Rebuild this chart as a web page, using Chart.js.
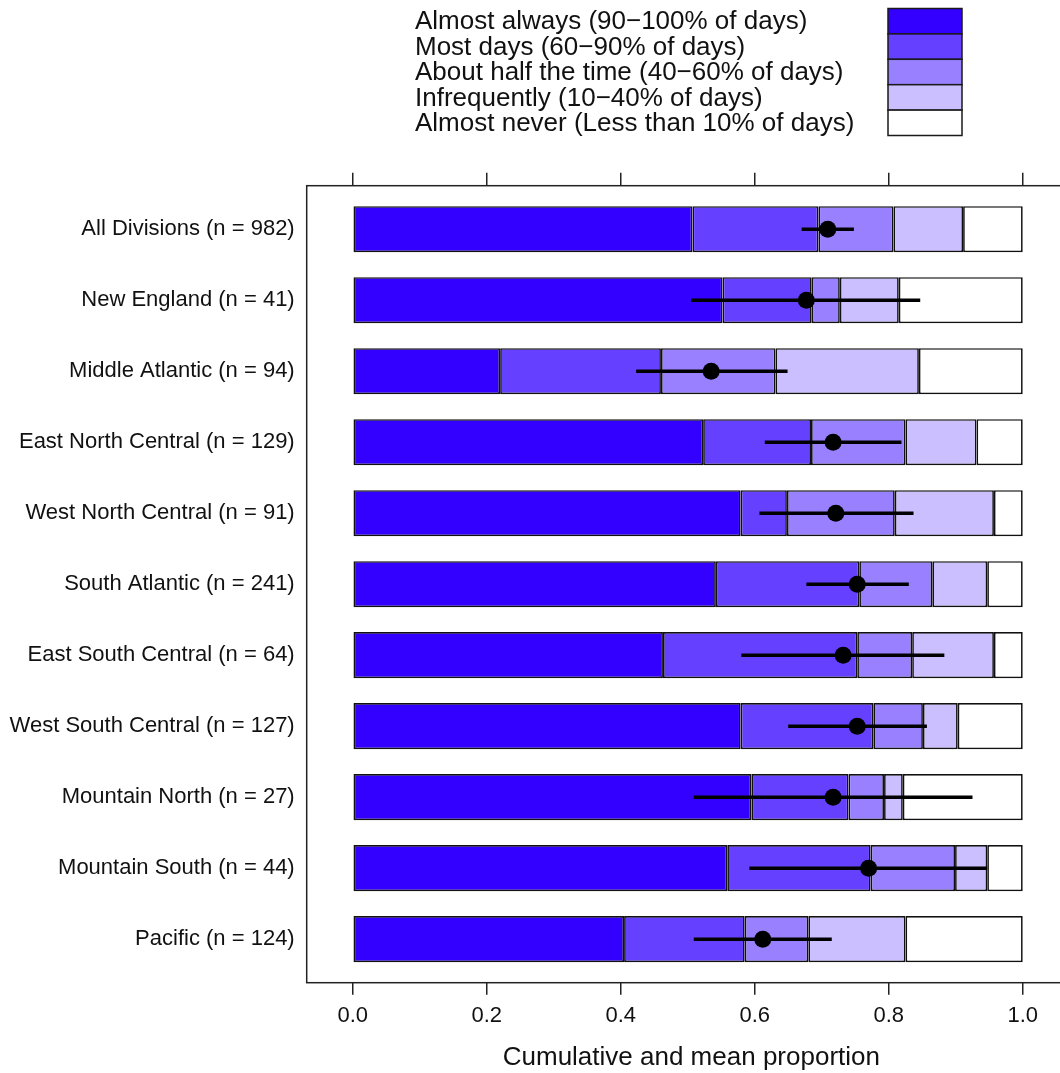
<!DOCTYPE html>
<html>
<head>
<meta charset="utf-8">
<script src="https://cdn.jsdelivr.net/npm/chart.js@4/dist/chart.umd.min.js"></script>
<style>
  html, body { margin: 0; padding: 0; overflow: hidden; background: #ffffff; }
  canvas { display: block; }
</style>
</head>
<body>
<canvas id="chart" width="1100" height="1073"></canvas>
<script>
// Census divisions, top to bottom
const categories = [
  'All Divisions (n = 982)',
  'New England (n = 41)',
  'Middle Atlantic (n = 94)',
  'East North Central (n = 129)',
  'West North Central (n = 91)',
  'South Atlantic (n = 241)',
  'East South Central (n = 64)',
  'West South Central (n = 127)',
  'Mountain North (n = 27)',
  'Mountain South (n = 44)',
  'Pacific (n = 124)'
];

// Response levels (legend order)
const levels = [
  'Almost always (90\u2212100% of days)',
  'Most days (60\u221290% of days)',
  'About half the time (40\u221260% of days)',
  'Infrequently (10\u221240% of days)',
  'Almost never (Less than 10% of days)'
];

// Cumulative proportion reached at the right edge of each level
const cumAlmostAlways = [0.507, 0.552, 0.220, 0.523, 0.579, 0.542, 0.463, 0.579, 0.595, 0.559, 0.405];
const cumMostDays     = [0.695, 0.685, 0.460, 0.684, 0.648, 0.756, 0.753, 0.777, 0.740, 0.773, 0.585];
const cumAboutHalf    = [0.807, 0.727, 0.631, 0.825, 0.809, 0.865, 0.835, 0.851, 0.793, 0.899, 0.680];
const cumInfrequently = [0.911, 0.815, 0.845, 0.931, 0.957, 0.947, 0.957, 0.903, 0.821, 0.947, 0.825];
const cumAlmostNever  = [1, 1, 1, 1, 1, 1, 1, 1, 1, 1, 1];

// Mean proportion with interval
const meanProp = [0.709, 0.677, 0.535, 0.717, 0.721, 0.753, 0.732, 0.753, 0.717, 0.770, 0.612];
const ciLow    = [0.670, 0.505, 0.423, 0.615, 0.607, 0.677, 0.580, 0.650, 0.509, 0.592, 0.509];
const ciHigh   = [0.748, 0.847, 0.649, 0.819, 0.837, 0.830, 0.883, 0.857, 0.925, 0.947, 0.715];

// Axis ticks
const xTicks = [0, 0.2, 0.4, 0.6, 0.8, 1.0];

const FONT = "'Liberation Sans', Arial, Helvetica, sans-serif";
const INK = '#111111';
const levelColors = ['#3300FF', '#6640FF', '#9980FF', '#CCBFFF', '#FFFFFF'];

const X_MIN = -0.0687, X_MAX = 1.0795;
const Y_PAD = 0.6127;

const zeros = categories.map(() => 0);
const bounds = [zeros, cumAlmostAlways, cumMostDays, cumAboutHalf, cumInfrequently, cumAlmostNever];

const barSets = levels.map((label, k) => ({
  type: 'bar',
  label: label,
  data: categories.map((_, i) => ({ x: [bounds[k][i], bounds[k + 1][i]], y: i })),
  backgroundColor: levelColors[k],
  borderColor: '#111111',
  borderWidth: 1.7,
  borderSkipped: false,
  grouped: false,
  barPercentage: 0.65,
  categoryPercentage: 1,
  xAxisID: 'x',
  yAxisID: 'y'
}));

const meanSet = {
  type: 'scatter',
  label: 'Mean',
  data: categories.map((_, i) => ({ x: meanProp[i], y: i })),
  pointRadius: 8.5,
  pointBackgroundColor: '#000000',
  pointBorderColor: '#000000',
  pointBorderWidth: 0,
  xAxisID: 'x',
  yAxisID: 'y',
  order: -1
};

// Horizontal interval lines behind the mean dots
const intervalPlugin = {
  id: 'intervals',
  beforeDatasetDraw(chart, args) {
    if (chart.data.datasets[args.index].type !== 'scatter') return;
    const { ctx, scales: { x, y } } = chart;
    ctx.save();
    ctx.strokeStyle = '#000000';
    ctx.lineWidth = 3.6;
    ctx.lineCap = 'butt';
    categories.forEach((_, i) => {
      const py = y.getPixelForValue(i);
      ctx.beginPath();
      ctx.moveTo(x.getPixelForValue(ciLow[i]), py);
      ctx.lineTo(x.getPixelForValue(ciHigh[i]), py);
      ctx.stroke();
    });
    ctx.restore();
  }
};

// Plot frame and the level legend above it
const framePlugin = {
  id: 'frameAndKey',
  afterDraw(chart) {
    const { ctx, chartArea: a } = chart;
    ctx.save();
    ctx.strokeStyle = '#222222';
    ctx.lineWidth = 1.5;
    ctx.strokeRect(a.left, a.top, a.right - a.left, a.bottom - a.top);

    const keyTextX = 415, boxX = 888, boxW = 74, rowTop = 8.5, rowH = 25.4;
    ctx.font = '26px ' + FONT;
    ctx.textAlign = 'left';
    ctx.textBaseline = 'middle';
    levels.forEach((label, k) => {
      const top = rowTop + k * rowH;
      ctx.fillStyle = levelColors[k];
      ctx.fillRect(boxX, top, boxW, rowH);
      ctx.strokeStyle = '#1a1a1a';
      ctx.lineWidth = 1.5;
      ctx.strokeRect(boxX, top, boxW, rowH);
      ctx.fillStyle = INK;
      ctx.fillText(label, keyTextX, top + rowH / 2 + 1);
    });
    ctx.restore();
  }
};

new Chart(document.getElementById('chart'), {
  type: 'bar',
  data: { datasets: [...barSets, meanSet] },
  plugins: [intervalPlugin, framePlugin],
  options: {
    indexAxis: 'y',
    responsive: false,
    animation: false,
    events: [],
    layout: { padding: { left: 0, top: 0, right: 24, bottom: 0 } },
    plugins: {
      legend: { display: false },
      tooltip: { enabled: false }
    },
    scales: {
      x: {
        type: 'linear',
        position: 'bottom',
        min: X_MIN,
        max: X_MAX,
        afterBuildTicks: s => { s.ticks = xTicks.map(v => ({ value: v })); },
        afterFit: s => { s.height = 90.3; },
        grid: { drawOnChartArea: false, drawTicks: true, tickLength: 12, color: '#222222', lineWidth: 1.5 },
        border: { display: false },
        ticks: {
          font: { family: FONT, size: 22 },
          color: INK,
          padding: 8,
          maxRotation: 0,
          autoSkip: false,
          callback: v => Number(v).toFixed(1)
        },
        title: {
          display: true,
          text: 'Cumulative and mean proportion',
          font: { family: FONT, size: 26 },
          color: INK,
          padding: { top: 0, bottom: 0 }
        }
      },
      x2: {
        type: 'linear',
        axis: 'x',
        position: 'top',
        min: X_MIN,
        max: X_MAX,
        afterBuildTicks: s => { s.ticks = xTicks.map(v => ({ value: v })); },
        afterFit: s => { s.height = 185.7; },
        grid: { drawOnChartArea: false, drawTicks: true, tickLength: 13, color: '#222222', lineWidth: 1.5 },
        border: { display: false },
        ticks: { display: false }
      },
      y: {
        type: 'linear',
        position: 'left',
        reverse: true,
        offset: false,
        min: -Y_PAD,
        max: categories.length - 1 + Y_PAD,
        afterBuildTicks: s => { s.ticks = categories.map((_, i) => ({ value: i })); },
        afterFit: s => { s.width = 306.7; },
        grid: { display: false, drawTicks: false },
        border: { display: false },
        ticks: {
          font: { family: FONT, size: 22 },
          color: INK,
          padding: 12,
          autoSkip: false,
          callback: v => categories[v]
        }
      }
    }
  }
});
</script>
</body>
</html>
